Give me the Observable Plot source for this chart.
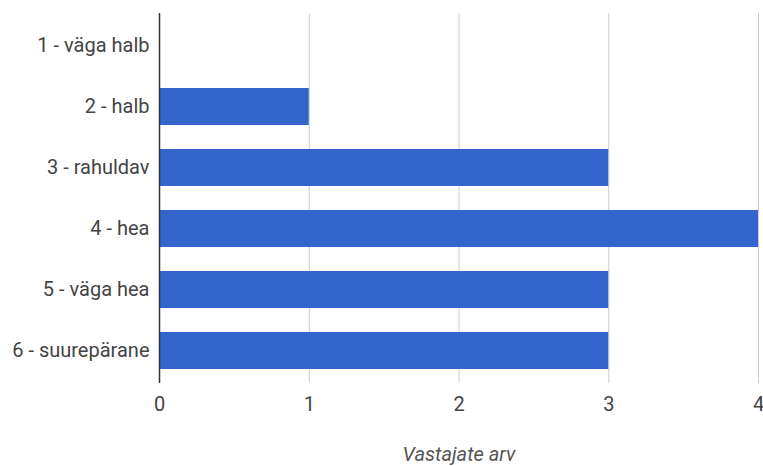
<!DOCTYPE html>
<html><head><meta charset="utf-8">
<script src="https://cdn.jsdelivr.net/npm/d3@7"></script>
<script src="https://cdn.jsdelivr.net/npm/@observablehq/plot@0.6"></script>
<style>
body{margin:0;background:#fff;}
#chart svg{font-family:Roboto,Arial,sans-serif;}
#chart [aria-label="x-axis label"] text{font-style:italic;}
</style></head>
<body><div id="chart"></div>
<script>
const categories = ["1 - väga halb","2 - halb","3 - rahuldav","4 - hea","5 - väga hea","6 - suurepärane"];
const values = [0, 1, 3, 4, 3, 3];
const xTicks = [0, 1, 2, 3, 4];
const xTitle = "Vastajate arv";

const data = categories.map((c, i) => ({cat: c, val: values[i]}));

const chart = Plot.plot({
  width: 763, height: 466,
  marginLeft: 159, marginRight: 5, marginTop: 13, marginBottom: 83,
  style: {fontSize: "20px", color: "#444", background: "#fff"},
  x: {domain: [0, 4], ticks: xTicks, label: xTitle},
  y: {domain: categories, paddingInner: 0.4, paddingOuter: 0.2, label: null},
  marks: [
    Plot.gridX(xTicks.slice(1), {stroke: "#ccc", strokeOpacity: 1, strokeWidth: 1}),
    Plot.barX(data, {x: "val", y: "cat", fill: "#3366cc"}),
    Plot.ruleX([0], {stroke: "#333", strokeWidth: 1.5}),
    Plot.axisX({ticks: xTicks, tickFormat: "d", tickSize: 0, tickPadding: 13, fill: "#444", fontSize: 20,
      label: xTitle, labelAnchor: "center", labelOffset: 77, labelArrow: "none"}),
    Plot.axisY({tickSize: 0, tickPadding: 10, fill: "#444", fontSize: 20, label: null})
  ]
});
d3.select(chart).select('[aria-label="x-axis label"]').attr("fill", "#555");
document.getElementById("chart").appendChild(chart);
</script></body></html>
